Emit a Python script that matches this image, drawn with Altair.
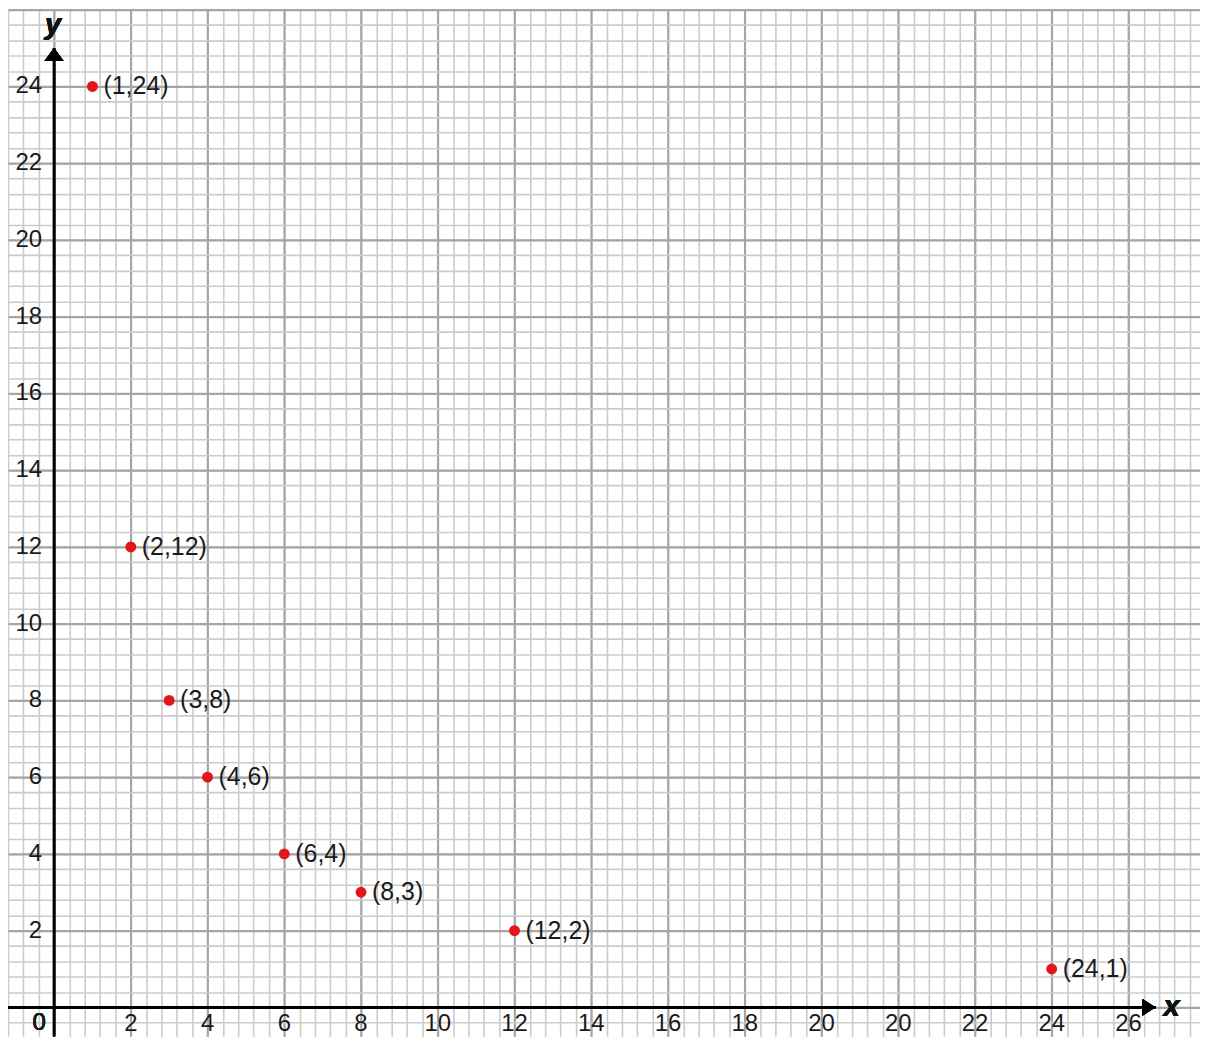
import altair as alt
import pandas as pd

# ---- data ----
point_x = [1, 2, 3, 4, 6, 8, 12, 26]          # grid position of each dot
point_y = [24, 12, 8, 6, 4, 3, 2, 1]
point_text = ["(1,24)", "(2,12)", "(3,8)", "(4,6)", "(6,4)", "(8,3)", "(12,2)", "(24,1)"]

x_tick_pos = [2, 4, 6, 8, 10, 12, 14, 16, 18, 20, 22, 24, 26, 28]
x_tick_text = ["2", "4", "6", "8", "10", "12", "14", "16", "18", "20", "20", "22", "24", "26"]
y_tick_pos = [2, 4, 6, 8, 10, 12, 14, 16, 18, 20, 22, 24]
y_tick_text = ["2", "4", "6", "8", "10", "12", "14", "16", "18", "20", "22", "24"]

# ---- layout ----
PX = 38.5                      # pixels per unit
W, H = 1196, 1030
X_MIN = -1.2
X_MAX = X_MIN + W / PX
Y_MAX = 26.0
Y_MIN = Y_MAX - H / PX
X_ARROW = 28.7
Y_ARROW = 25.0
FONT = "Liberation Sans"

x_minor = [round(X_MIN + 0.4 * i, 2) for i in range(200) if X_MIN + 0.4 * i <= X_MAX + 1e-9]
y_minor = [round(-0.4 + 0.4 * i, 2) for i in range(200) if -0.4 + 0.4 * i <= Y_MAX + 1e-9]
x_major = [v for v in x_minor if abs(v / 2 - round(v / 2)) < 1e-6]
y_major = [v for v in y_minor if abs(v / 2 - round(v / 2)) < 1e-6]

xs = alt.Scale(domain=[X_MIN, X_MAX], nice=False, zero=False)
ys = alt.Scale(domain=[Y_MIN, Y_MAX], nice=False, zero=False)


def grid_axis(vals, color, width):
    return alt.Axis(grid=True, values=vals, labels=False, ticks=False, domain=False,
                    title=None, gridColor=color, gridWidth=width, gridOpacity=1)


def XD(v):
    return alt.XDatum(v, type="quantitative", scale=xs, axis=None)


def YD(v):
    return alt.YDatum(v, type="quantitative", scale=ys, axis=None)


pts = pd.DataFrame({"x": point_x, "y": point_y, "t": point_text})
xt = pd.DataFrame({"x": x_tick_pos, "t": x_tick_text})
yt = pd.DataFrame({"y": y_tick_pos, "t": y_tick_text})

minor_grid = alt.Chart(pts).mark_point(opacity=0).encode(
    x=alt.X("x:Q", scale=xs, axis=grid_axis(x_minor, "#cbcbcb", 1.6)),
    y=alt.Y("y:Q", scale=ys, axis=grid_axis(y_minor, "#cbcbcb", 1.6)),
)
major_grid = alt.Chart(pts).mark_point(opacity=0).encode(
    x=alt.X("x:Q", scale=xs, axis=grid_axis(x_major, "#a5a5a5", 2.2)),
    y=alt.Y("y:Q", scale=ys, axis=grid_axis(y_major, "#a5a5a5", 2.2)),
)

x_axis_line = alt.Chart(pts).mark_rule(color="black", strokeWidth=2.2).encode(
    x=XD(X_MIN), x2=alt.X2Datum(X_ARROW), y=YD(0),
)
y_axis_line = alt.Chart(pts).mark_rule(color="black", strokeWidth=2.2).encode(
    x=XD(0), y=YD(Y_MIN), y2=alt.Y2Datum(Y_ARROW),
)

y_arrow = alt.Chart(pts).mark_point(
    shape="M0,0L-0.73,1L0.73,1Z", filled=True, color="black", opacity=1, size=676, strokeWidth=0
).encode(x=XD(0), y=YD(Y_ARROW))
x_arrow = alt.Chart(pts).mark_point(
    shape="M0,0L-1,-0.65L-1,0.65Z", filled=True, color="black", opacity=1, size=676, strokeWidth=0
).encode(x=XD(X_ARROW), y=YD(0))

x_name = alt.Chart(pts).mark_text(
    text="x", font=FONT, fontSize=30, fontWeight="bold", fontStyle="italic",
    align="left", baseline="alphabetic", dx=8, dy=9, color="#111"
).encode(x=XD(X_ARROW), y=YD(0))
y_name = alt.Chart(pts).mark_text(
    text="y", font=FONT, fontSize=29, fontWeight="bold", fontStyle="italic",
    align="center", baseline="alphabetic", dx=-1, dy=-14, color="#111"
).encode(x=XD(0), y=YD(Y_ARROW))

origin = alt.Chart(pts).mark_text(
    text="0", font=FONT, fontSize=24, align="center", baseline="middle", dx=-15, dy=16, color="#1a1a1a"
).encode(x=XD(0), y=YD(0))

x_labels = alt.Chart(xt).mark_text(
    font=FONT, fontSize=24, align="center", baseline="middle", dy=17, color="#1a1a1a"
).encode(
    x=alt.X("x:Q", scale=xs, axis=None),
    y=YD(0),
    text="t:N",
)
y_labels = alt.Chart(yt).mark_text(
    font=FONT, fontSize=24, align="right", baseline="middle", dx=-12, color="#1a1a1a"
).encode(
    x=XD(0),
    y=alt.Y("y:Q", scale=ys, axis=None),
    text="t:N",
)

dots = alt.Chart(pts).mark_circle(color="#e3161b", opacity=1, size=120).encode(
    x=alt.X("x:Q", scale=xs, axis=None),
    y=alt.Y("y:Q", scale=ys, axis=None),
)
dot_labels = alt.Chart(pts).mark_text(
    font=FONT, fontSize=25, align="left", baseline="middle", dx=11, dy=0, color="#1a1a1a"
).encode(
    x=alt.X("x:Q", scale=xs, axis=None),
    y=alt.Y("y:Q", scale=ys, axis=None),
    text="t:N",
)

grid = alt.layer(minor_grid, major_grid).resolve_axis(x="independent", y="independent")

chart = alt.layer(
    grid, x_axis_line, y_axis_line, y_arrow, x_arrow, x_name, y_name, origin,
    x_labels, y_labels, dots, dot_labels
).properties(
    width=W, height=H, padding=0, background="white",
    autosize=alt.AutoSizeParams(type="none"),
).configure_view(strokeWidth=0)

chart.save("out.html", embed_options={"renderer": "svg", "actions": False})
